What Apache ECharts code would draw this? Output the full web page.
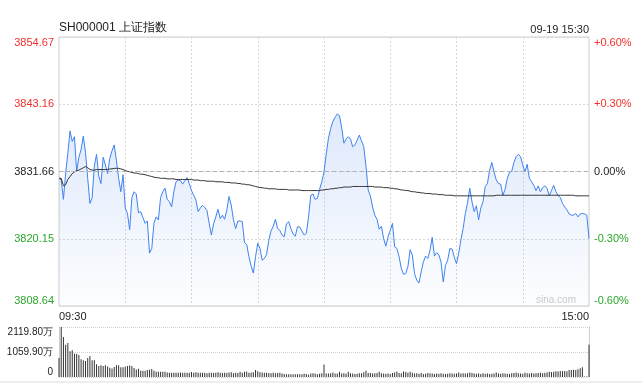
<!DOCTYPE html>
<html>
<head>
<meta charset="utf-8">
<script src="https://cdn.jsdelivr.net/npm/echarts@6/dist/echarts.min.js"></script>
<style>
html,body{margin:0;padding:0;background:#fff;}
#chart{width:642px;height:383px;}
</style>
</head>
<body>
<div id="chart"></div>
<script>
const preClose = 3831.66;
const titleText = 'SH000001 上证指数';
const dateText = '09-19 15:30';
const leftLabels = ['3808.64', '3820.15', '3831.66', '3843.16', '3854.67'];
const rightLabels = ['-0.60%', '-0.30%', '0.00%', '+0.30%', '+0.60%'];
const volLabels = ['0', '1059.90万', '2119.80万'];
const xEndLabels = ['09:30', '15:00'];

const price = [
3830.5,3830.2,3826.9,3831.3,3834.8,3838.6,3836.8,3837.6,3831.7,3834.1,
3835.4,3837.7,3834.9,3830.5,3826.2,3827.2,3832.6,3834.6,3830.9,3829.6,
3834.1,3832.8,3831.3,3833.9,3835.2,3836.2,3833.5,3830.5,3828.2,3831.1,
3825.4,3824.5,3821.7,3827.2,3828.2,3827.8,3824.6,3824.8,3823.8,3822.8,
3823.2,3817.7,3818.5,3822.8,3823.9,3823.4,3827.2,3828.2,3828.8,3826.9,
3826.5,3825.6,3828.2,3829.9,3830.2,3830.1,3829.5,3830.1,3830.6,3829.6,
3828.4,3827.6,3826.8,3824.8,3825.4,3825.9,3825.5,3825.0,3822.8,3820.8,
3822.7,3823.9,3825.2,3823.6,3824.2,3823.5,3825.1,3827.4,3825.9,3823.4,
3821.9,3823.2,3823.2,3823.1,3819.5,3819.2,3817.1,3815.5,3814.3,3817.1,
3819.4,3818.5,3816.5,3816.8,3817.5,3819.9,3821.5,3822.3,3823.5,3821.9,
3821.6,3820.8,3820.5,3822.7,3823.1,3821.9,3821.0,3820.6,3822.2,3822.2,
3821.5,3820.8,3821.1,3823.9,3827.6,3827.8,3826.9,3827.1,3828.6,3829.9,
3831.6,3834.6,3837.3,3839.0,3840.2,3840.9,3841.5,3841.2,3839.2,3836.5,
3837.2,3837.6,3837.2,3835.9,3836.2,3837.0,3837.9,3836.9,3835.9,3832.6,
3828.5,3827.5,3825.6,3824.2,3823.5,3821.8,3822.3,3820.2,3818.9,3820.5,
3821.6,3822.8,3818.8,3818.5,3817.1,3815.1,3814.1,3814.2,3815.4,3818.3,
3817.4,3814.2,3813.1,3812.6,3814.5,3816.2,3817.2,3816.8,3818.2,3820.4,
3817.2,3817.8,3817.4,3816.2,3812.8,3815.6,3816.5,3818.5,3818.4,3817.0,
3815.9,3817.7,3820.0,3821.9,3824.5,3826.3,3828.8,3826.5,3824.8,3825.8,
3823.4,3825.4,3826.5,3829.1,3829.6,3831.9,3833.2,3831.6,3830.2,3829.6,
3829.5,3827.6,3828.6,3830.5,3831.5,3831.7,3833.2,3834.2,3834.6,3834.2,
3832.8,3831.6,3832.9,3830.5,3829.9,3829.3,3828.4,3829.2,3828.2,3828.9,
3829.2,3828.8,3827.5,3828.4,3829.3,3828.2,3827.6,3827.2,3826.2,3825.6,
3825.1,3824.4,3824.2,3824.2,3824.5,3823.9,3824.4,3824.5,3824.4,3824.2,3820.2
];

const avgPrice = [
3830.5,3830.5,3829.2,3829.4,3830.3,3830.8,3831.3,3831.6,3831.8,3831.9,
3832.1,3832.3,3832.5,3832.3,3832.0,3831.9,3831.9,3832.0,3832.0,3832.0,
3832.0,3832.0,3832.0,3832.1,3832.1,3832.2,3832.2,3832.2,3832.1,3832.0,
3831.8,3831.7,3831.6,3831.5,3831.4,3831.4,3831.3,3831.2,3831.2,3831.1,
3831.0,3830.9,3830.8,3830.7,3830.6,3830.6,3830.5,3830.5,3830.5,3830.4,
3830.4,3830.4,3830.4,3830.3,3830.3,3830.3,3830.3,3830.3,3830.3,3830.3,
3830.3,3830.2,3830.2,3830.2,3830.1,3830.1,3830.1,3830.0,3830.0,3830.0,
3830.0,3829.9,3829.9,3829.9,3829.9,3829.8,3829.8,3829.8,3829.7,3829.7,
3829.7,3829.6,3829.6,3829.5,3829.5,3829.4,3829.4,3829.3,3829.2,3829.1,
3829.0,3828.9,3828.9,3828.8,3828.8,3828.7,3828.7,3828.7,3828.7,3828.6,
3828.6,3828.6,3828.6,3828.6,3828.5,3828.5,3828.5,3828.5,3828.5,3828.5,
3828.4,3828.4,3828.4,3828.4,3828.4,3828.4,3828.4,3828.4,3828.4,3828.5,
3828.5,3828.6,3828.6,3828.7,3828.7,3828.8,3828.8,3828.9,3828.9,3829.0,
3829.0,3829.0,3829.0,3829.1,3829.1,3829.1,3829.1,3829.1,3829.1,3829.1,
3829.1,3829.1,3829.1,3829.0,3829.0,3829.0,3829.0,3828.9,3828.9,3828.9,
3828.8,3828.8,3828.7,3828.7,3828.6,3828.5,3828.5,3828.4,3828.4,3828.3,
3828.2,3828.2,3828.1,3828.1,3828.0,3828.0,3827.9,3827.9,3827.9,3827.8,
3827.8,3827.8,3827.7,3827.7,3827.7,3827.6,3827.6,3827.6,3827.6,3827.5,
3827.5,3827.5,3827.5,3827.5,3827.5,3827.5,3827.5,3827.5,3827.5,3827.5,
3827.5,3827.5,3827.5,3827.5,3827.5,3827.5,3827.5,3827.5,3827.6,3827.6,
3827.6,3827.6,3827.6,3827.6,3827.6,3827.6,3827.6,3827.6,3827.6,3827.6,
3827.6,3827.6,3827.6,3827.6,3827.6,3827.6,3827.6,3827.6,3827.6,3827.6,
3827.6,3827.6,3827.6,3827.6,3827.6,3827.6,3827.6,3827.6,3827.6,3827.6,
3827.6,3827.6,3827.6,3827.6,3827.5,3827.5,3827.5,3827.5,3827.5,3827.5,3827.5
];

const volume = [
805,2119.8,1700,1370,1440,1090,1130,990,990,930,
750,705,680,805,890,705,705,540,465,495,
465,495,450,395,365,425,495,495,410,410,
440,470,490,470,380,320,350,270,270,270,
300,310,340,260,220,220,220,220,220,190,
180,180,180,180,180,190,180,180,180,180,
210,180,200,180,180,180,180,160,180,180,
170,180,200,180,170,180,170,190,200,160,
180,170,220,180,220,230,180,190,200,300,
240,200,190,180,180,170,160,180,160,170,
180,150,130,120,120,120,120,120,120,120,
120,140,130,100,150,160,150,120,140,160,
530,150,150,160,190,150,150,220,150,160,
140,220,160,150,130,140,160,160,200,265,
170,170,150,160,170,220,160,150,140,150,
130,170,190,235,170,160,235,210,180,220,
180,150,160,140,170,130,140,170,160,150,
130,150,140,160,140,130,140,160,150,140,
150,190,150,160,150,160,190,170,150,140,
150,130,160,140,150,130,140,150,190,150,
140,160,150,140,130,160,170,190,160,150,
140,175,160,150,170,150,160,170,180,160,
180,190,220,210,220,240,235,250,240,250,
245,300,300,310,300,330,368,410,20,20,1370
];

// minute categories: 09:30-11:30, 13:01-15:00
const times = [];
function pad(n){return (n<10?'0':'')+n;}
for (let m = 9*60+30; m <= 11*60+30; m++) times.push(pad(Math.floor(m/60))+':'+pad(m%60));
for (let m = 13*60+1; m <= 15*60; m++) times.push(pad(Math.floor(m/60))+':'+pad(m%60));

const pct = price.map(p => (p / preClose - 1) * 100);
const avgPct = avgPrice.map(p => (p / preClose - 1) * 100);

const RED = '#f0302a', GREEN = '#2ba52b', BLACK = '#222';
function tickIdx(v){ return Math.round((parseFloat(v) + 0.6) / 0.3); }
function tickColor(v){ const i = tickIdx(v); return i > 2 ? RED : (i < 2 ? GREEN : BLACK); }
const FONT = 'Liberation Sans, Arial, sans-serif';

const chart = echarts.init(document.getElementById('chart'), null, {renderer: 'canvas'});
chart.setOption({
  animation: false,
  backgroundColor: '#fff',
  textStyle: {fontFamily: FONT},
  title: [
    {text: titleText, left: 59, top: 22, padding: 0,
     textStyle: {fontSize: 12, fontWeight: 'normal', color: '#222', fontFamily: FONT}},
    {text: dateText, right: 53, top: 24, padding: 0,
     textStyle: {fontSize: 11, fontWeight: 'normal', color: '#222', fontFamily: FONT}},
    {text: 'sina.com', left: 536, top: 295, padding: 0,
     textStyle: {fontSize: 10, fontWeight: 'normal', color: '#c8c8c8', fontFamily: FONT}}
  ],
  grid: [
    {left: 59, top: 37, width: 530, height: 269, show: true, borderColor: '#ccc', borderWidth: 1},
    {left: 59, top: 327, width: 530, height: 50}
  ],
  xAxis: [
    {
      gridIndex: 0, type: 'category', data: times, boundaryGap: false,
      axisLine: {show: false}, axisTick: {show: false},
      axisLabel: {
        interval: (i) => i === 0 || i === times.length - 1,
        formatter: (v, i) => i === 0 ? xEndLabels[0] : xEndLabels[1],
        alignMinLabel: 'left', alignMaxLabel: 'right',
        fontSize: 11, color: '#222', margin: 5, fontFamily: FONT
      },
      splitLine: {show: true, interval: (i) => i > 0 && i < times.length - 1 && i % 30 === 0,
        lineStyle: {color: '#d8d8d8', type: [2, 2], width: 1}}
    },
    {
      gridIndex: 1, type: 'category', data: times, boundaryGap: false,
      axisLine: {show: false}, axisTick: {show: false}, axisLabel: {show: false},
      splitLine: {show: false}
    }
  ],
  yAxis: [
    {
      gridIndex: 0, type: 'value', min: -0.6, max: 0.6, interval: 0.3,
      axisLine: {show: false}, axisTick: {show: false},
      axisLabel: {
        formatter: (v) => leftLabels[tickIdx(v)],
        color: (v) => tickColor(v),
        fontSize: 11, margin: 5, fontFamily: FONT,
        verticalAlignMinLabel: 'bottom', verticalAlignMaxLabel: 'top'
      },
      splitLine: {show: true, lineStyle: {color: '#d8d8d8', type: [2, 2], width: 1}}
    },
    {
      gridIndex: 0, type: 'value', position: 'right', min: -0.6, max: 0.6, interval: 0.3,
      axisLine: {show: false}, axisTick: {show: false},
      axisLabel: {
        formatter: (v) => rightLabels[tickIdx(v)],
        color: (v) => tickColor(v),
        fontSize: 11, margin: 5, fontFamily: FONT,
        verticalAlignMinLabel: 'bottom', verticalAlignMaxLabel: 'top'
      },
      splitLine: {show: false}
    },
    {
      gridIndex: 1, type: 'value', min: 0, max: 2119.8, interval: 1059.9,
      axisLine: {show: true, lineStyle: {color: '#ccc'}}, axisTick: {show: false},
      axisLabel: {
        formatter: (v) => volLabels[Math.round(parseFloat(v) / 1059.9)],
        color: '#222', fontSize: 10, margin: 6, fontFamily: FONT,
        verticalAlignMaxLabel: 'top', verticalAlignMinLabel: 'bottom'
      },
      splitLine: {show: true, lineStyle: {color: '#d0d0d0', type: [1, 1], width: 1}}
    },
    {
      gridIndex: 1, type: 'value', position: 'right', min: 0, max: 2119.8, interval: 1059.9,
      axisLine: {show: true, lineStyle: {color: '#ccc'}}, axisTick: {show: false},
      axisLabel: {show: false}, splitLine: {show: false}
    }
  ],
  series: [
    {
      name: 'price', type: 'line', xAxisIndex: 0, yAxisIndex: 0, data: pct,
      symbol: 'none', smooth: false,
      lineStyle: {color: '#3f83f0', width: 1},
      areaStyle: {
        origin: 'start',
        color: new echarts.graphic.LinearGradient(0, 0, 0, 1, [
          {offset: 0, color: 'rgba(70,130,235,0.25)'},
          {offset: 1, color: 'rgba(70,130,235,0.02)'}
        ])
      },
      markLine: {
        silent: true, symbol: ['none', 'none'], label: {show: false},
        lineStyle: {color: '#b0b0b0', type: [4, 3], width: 1},
        data: [{yAxis: 0}]
      },
      z: 3
    },
    {
      name: 'avg', type: 'line', xAxisIndex: 0, yAxisIndex: 0, data: avgPct,
      symbol: 'none', smooth: false,
      lineStyle: {color: '#333', width: 1},
      z: 4
    },
    {
      name: 'volume', type: 'bar', xAxisIndex: 1, yAxisIndex: 2, data: volume,
      barWidth: 1, itemStyle: {color: '#333'}
    }
  ],
  graphic: [
    {type: 'rect', shape: {x: 0, y: 381, width: 642, height: 2}, style: {fill: '#eeeeee'}, silent: true}
  ]
});
</script>
</body>
</html>
